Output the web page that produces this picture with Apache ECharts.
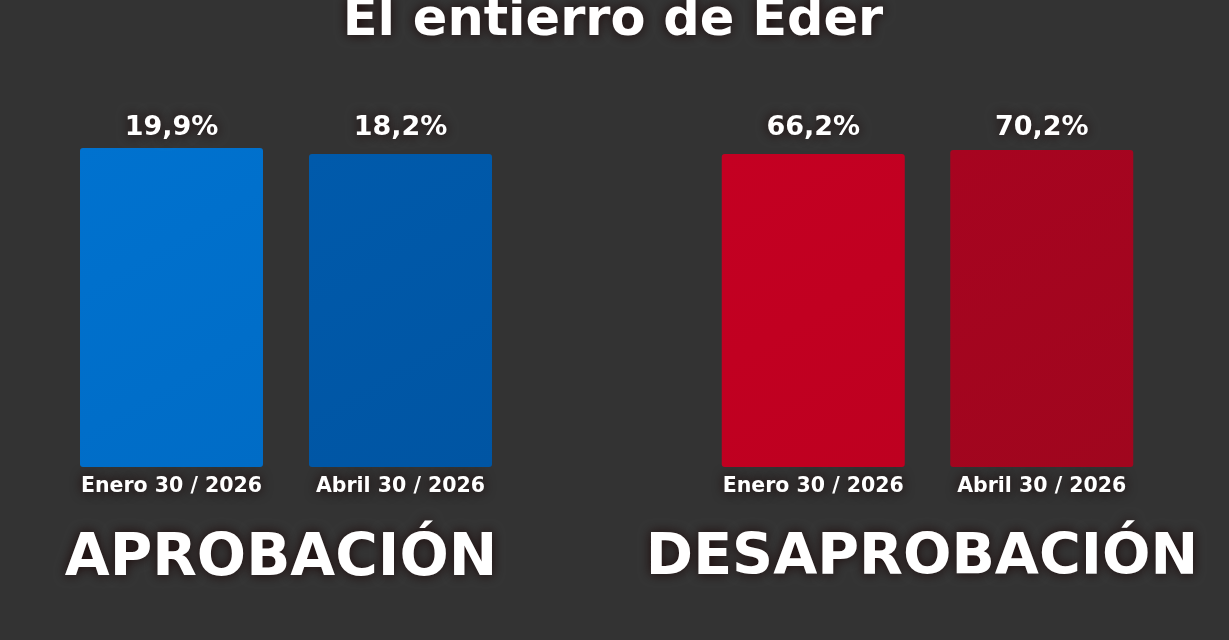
<!DOCTYPE html>
<html>
<head>
<meta charset="utf-8">
<script src="https://cdn.jsdelivr.net/npm/echarts@6/dist/echarts.min.js"></script>
<style>
  html, body { margin: 0; padding: 0; background: #333333; }
  #chart { width: 1229px; height: 640px; }
</style>
</head>
<body>
<div id="chart"></div>
<script>
// datos
const chartTitle = 'El entierro de Eder'
const categories = ['Enero 30 / 2026', 'Abril 30 / 2026']
const aprobacion = [19.9, 18.2]
const desaprobacion = [66.2, 70.2]
const groupNames = ['APROBACIÓN', 'DESAPROBACIÓN']

// colores de cada barra
const blueColors = [['#0072cf', '#006cc6'], ['#005aab', '#0055a3']]
const redColors = [['#c40022', '#be0020'], ['#a70420', '#a0061e']]
// separación de la etiqueta (todas quedan a la misma altura)
const blueGaps = [7, 13]
const redGaps = [13, 9]

const glow = {
  textShadowColor: 'rgba(25,5,5,0.95)',
  textShadowBlur: 12
}

function pct(v) {
  return v.toFixed(1).replace('.', ',') + '%'
}

function barData(values, colors, gaps) {
  return values.map((v, i) => ({
    value: v,
    label: { distance: gaps[i] },
    itemStyle: {
      color: new echarts.graphic.LinearGradient(0, 0, 1, 1, [
        { offset: 0, color: colors[i][0] },
        { offset: 1, color: colors[i][1] }
      ])
    }
  }))
}

const myChart = echarts.init(document.getElementById('chart'))

const catLabel = {
  interval: 0,
  color: '#ffffff',
  fontFamily: 'DejaVu Sans',
  fontWeight: 'bold',
  fontSize: 20.5,
  margin: 9,
  ...glow
}

const valLabel = {
  show: true,
  position: 'top',
  distance: 7,
  color: '#ffffff',
  fontFamily: 'DejaVu Sans',
  fontWeight: 'bold',
  fontSize: 27,
  formatter: p => pct(p.value),
  ...glow
}

const bigText = { color: '#ffffff', fontFamily: 'DejaVu Sans', fontWeight: 'bold', fontSize: 58, ...glow }

const option = {
  backgroundColor: '#333333',
  animation: false,
  title: [
    {
      text: chartTitle,
      left: 608,
      textAlign: 'center',
      top: -9,
      textStyle: { ...bigText, fontSize: 51 }
    },
    {
      text: groupNames[0],
      left: 276,
      textAlign: 'center',
      top: 526,
      textStyle: bigText
    },
    {
      text: groupNames[1],
      left: 917,
      textAlign: 'center',
      top: 526,
      textStyle: { ...bigText, fontSize: 57 }
    }
  ],
  grid: [
    { left: 57, width: 458, top: 148, height: 319 },
    { left: 699, width: 457, top: 150, height: 317 }
  ],
  xAxis: [
    {
      gridIndex: 0, type: 'category', data: categories,
      axisLine: { show: false }, axisTick: { show: false },
      axisLabel: catLabel
    },
    {
      gridIndex: 1, type: 'category', data: categories,
      axisLine: { show: false }, axisTick: { show: false },
      axisLabel: catLabel
    }
  ],
  // ejes ocultos; las alturas siguen la imagen original
  yAxis: [
    { gridIndex: 0, type: 'value', min: -70, max: 19.9, startValue: -70, show: false, splitLine: { show: false } },
    { gridIndex: 1, type: 'value', min: -247, max: 70.2, startValue: -247, show: false, splitLine: { show: false } }
  ],
  series: [
    {
      name: groupNames[0],
      type: 'bar',
      xAxisIndex: 0, yAxisIndex: 0,
      barWidth: 183,
      data: barData(aprobacion, blueColors, blueGaps),
      itemStyle: { borderRadius: 3 },
      label: valLabel
    },
    {
      name: groupNames[1],
      type: 'bar',
      xAxisIndex: 1, yAxisIndex: 1,
      barWidth: 183,
      data: barData(desaprobacion, redColors, redGaps),
      itemStyle: { borderRadius: 3 },
      label: valLabel
    }
  ]
}

myChart.setOption(option)
</script>
</body>
</html>
